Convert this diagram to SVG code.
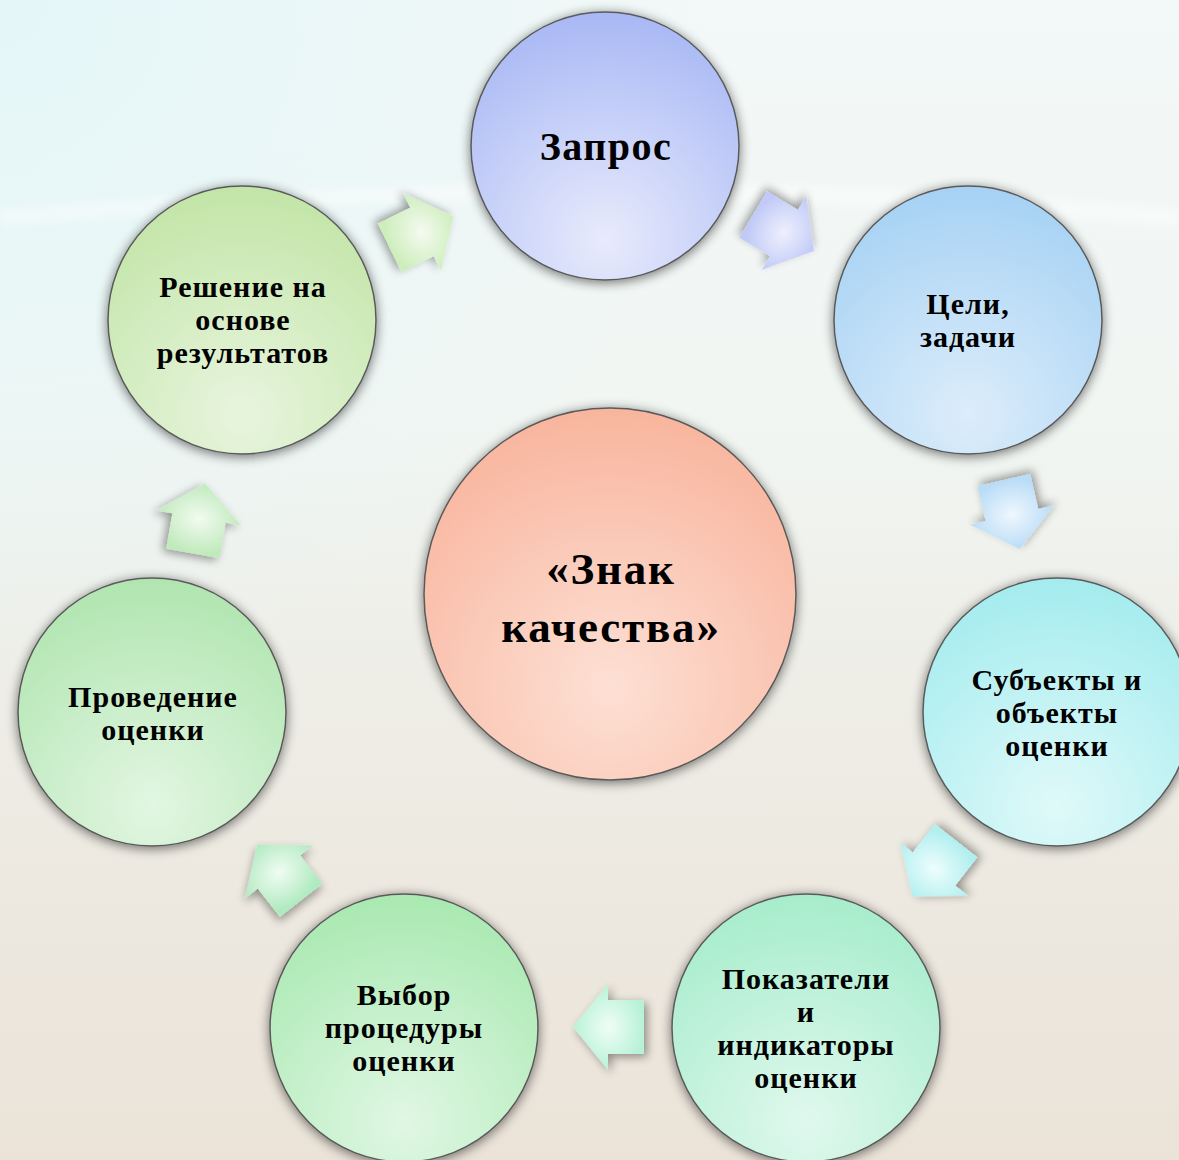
<svg xmlns="http://www.w3.org/2000/svg" width="1179" height="1160" viewBox="0 0 1179 1160">
<defs>
<linearGradient id="bg" x1="0" y1="0" x2="0" y2="1">
<stop offset="0" stop-color="#f3f8f8"/>
<stop offset="0.35" stop-color="#f1f6f3"/>
<stop offset="0.6" stop-color="#eeede6"/>
<stop offset="1" stop-color="#ebe3d8"/>
</linearGradient>
<radialGradient id="bgtl" cx="0" cy="0" r="0.6">
<stop offset="0" stop-color="#e2f6f8" stop-opacity="0.9"/>
<stop offset="1" stop-color="#e2f6f8" stop-opacity="0"/>
</radialGradient>
<filter id="sh" x="-20%" y="-20%" width="140%" height="140%">
<feGaussianBlur in="SourceAlpha" stdDeviation="6"/>
<feOffset dx="0" dy="2" result="b"/>
<feComponentTransfer><feFuncA type="linear" slope="0.55"/></feComponentTransfer>
<feMerge><feMergeNode/><feMergeNode in="SourceGraphic"/></feMerge>
</filter>
<filter id="ash" x="-40%" y="-40%" width="180%" height="180%">
<feGaussianBlur in="SourceAlpha" stdDeviation="5"/>
<feOffset dx="-3" dy="-3"/>
<feComponentTransfer><feFuncA type="linear" slope="0.4"/></feComponentTransfer>
<feMerge><feMergeNode/><feMergeNode in="SourceGraphic"/></feMerge>
</filter>
<filter id="blur" x="-10%" y="-100%" width="120%" height="300%"><feGaussianBlur stdDeviation="4"/></filter>
<radialGradient id="g1" cx="0.5" cy="0.85" r="0.9"><stop offset="0" stop-color="#e8ebfc"/><stop offset="1" stop-color="#a5b5f4"/></radialGradient>
<radialGradient id="g2" cx="0.5" cy="0.85" r="0.9"><stop offset="0" stop-color="#dcedfb"/><stop offset="1" stop-color="#a3d0f3"/></radialGradient>
<radialGradient id="g3" cx="0.5" cy="0.85" r="0.9"><stop offset="0" stop-color="#e0f9f9"/><stop offset="1" stop-color="#a0ebee"/></radialGradient>
<radialGradient id="g4" cx="0.5" cy="0.85" r="0.9"><stop offset="0" stop-color="#e0f8ee"/><stop offset="1" stop-color="#a3ecc9"/></radialGradient>
<radialGradient id="g5" cx="0.5" cy="0.85" r="0.9"><stop offset="0" stop-color="#e0f7e4"/><stop offset="1" stop-color="#a6e8ae"/></radialGradient>
<radialGradient id="g6" cx="0.5" cy="0.85" r="0.9"><stop offset="0" stop-color="#e2f6e2"/><stop offset="1" stop-color="#ade4ad"/></radialGradient>
<radialGradient id="g7" cx="0.5" cy="0.85" r="0.9"><stop offset="0" stop-color="#e8f5de"/><stop offset="1" stop-color="#c0e4a4"/></radialGradient>
<radialGradient id="gc" cx="0.5" cy="0.75" r="0.8"><stop offset="0" stop-color="#fde0d4"/><stop offset="1" stop-color="#f8b29a"/></radialGradient>
<radialGradient id="a1"><stop offset="0" stop-color="#f4faf0"/><stop offset="1" stop-color="#cdeebb"/></radialGradient>
<radialGradient id="a2"><stop offset="0" stop-color="#eef0fd"/><stop offset="1" stop-color="#c0c9f7"/></radialGradient>
<radialGradient id="a3"><stop offset="0" stop-color="#eef7fd"/><stop offset="1" stop-color="#b9dcf7"/></radialGradient>
<radialGradient id="a4"><stop offset="0" stop-color="#eefdfd"/><stop offset="1" stop-color="#b2efef"/></radialGradient>
<radialGradient id="a5"><stop offset="0" stop-color="#f0fdf7"/><stop offset="1" stop-color="#b8f2d6"/></radialGradient>
<radialGradient id="a6"><stop offset="0" stop-color="#f0fcf2"/><stop offset="1" stop-color="#b0eac0"/></radialGradient>
<radialGradient id="a7"><stop offset="0" stop-color="#f2fbf0"/><stop offset="1" stop-color="#c0eabc"/></radialGradient>
<path id="arr" d="M-36,-27 H0 V-43 L35,0 L0,43 V27 H-36 Z"/>
</defs>
<style>
.c{stroke:#5a5a5a;stroke-width:1.5;filter:url(#sh)}
.t{font-family:"Liberation Serif","Times New Roman",serif;font-weight:bold;fill:#000;text-anchor:middle}
.s{font-size:30px;letter-spacing:1px}
.a{filter:url(#ash)}
</style>
<rect width="1179" height="1160" fill="url(#bg)"/>
<rect width="1179" height="1160" fill="url(#bgtl)"/>
<path d="M0,218 Q590,165 1179,218" fill="none" stroke="#ffffff" stroke-width="16" stroke-opacity="0.4" filter="url(#blur)"/>
<g id="connectors">
<use href="#arr" class="a" fill="url(#a1)" transform="translate(422,232) rotate(-26)"/>
<use href="#arr" class="a" fill="url(#a2)" transform="translate(784,233) rotate(31)"/>
<use href="#arr" class="a" fill="url(#a3)" transform="translate(1012,515) rotate(77)"/>
<use href="#arr" class="a" fill="url(#a4)" transform="translate(934,869) rotate(128)"/>
<use href="#arr" class="a" fill="url(#a5)" transform="translate(608,1027) rotate(180)"/>
<use href="#arr" class="a" fill="url(#a6)" transform="translate(279,872) rotate(232)"/>
<use href="#arr" class="a" fill="url(#a7)" transform="translate(199,518) rotate(-80)"/>
</g>
<g id="n-zapros">
<circle class="c" cx="605" cy="146" r="134" fill="url(#g1)"/>
<text class="t" x="606" y="160" font-size="40" letter-spacing="1.5">Запрос</text>
</g>
<g id="n-tseli">
<circle class="c" cx="968" cy="320" r="134" fill="url(#g2)"/>
<text class="t s" x="968" y="314">Цели,</text>
<text class="t s" x="968" y="347">задачи</text>
</g>
<g id="n-subekty">
<circle class="c" cx="1057" cy="712" r="134" fill="url(#g3)"/>
<text class="t s" x="1057" y="690">Субъекты и</text>
<text class="t s" x="1057" y="723">объекты</text>
<text class="t s" x="1057" y="756">оценки</text>
</g>
<g id="n-pokazateli">
<circle class="c" cx="806" cy="1028" r="134" fill="url(#g4)"/>
<text class="t s" x="806" y="989">Показатели</text>
<text class="t s" x="806" y="1022">и</text>
<text class="t s" x="806" y="1055">индикаторы</text>
<text class="t s" x="806" y="1088">оценки</text>
</g>
<g id="n-vybor">
<circle class="c" cx="404" cy="1028" r="134" fill="url(#g5)"/>
<text class="t s" x="404" y="1005">Выбор</text>
<text class="t s" x="404" y="1038">процедуры</text>
<text class="t s" x="404" y="1071">оценки</text>
</g>
<g id="n-provedenie">
<circle class="c" cx="152" cy="712" r="134" fill="url(#g6)"/>
<text class="t s" x="153" y="707">Проведение</text>
<text class="t s" x="153" y="740">оценки</text>
</g>
<g id="n-reshenie">
<circle class="c" cx="242" cy="320" r="134" fill="url(#g7)"/>
<text class="t s" x="243" y="297">Решение на</text>
<text class="t s" x="243" y="330">основе</text>
<text class="t s" x="243" y="363">результатов</text>
</g>
<g id="n-center">
<circle class="c" cx="610" cy="594" r="186" fill="url(#gc)"/>
<text class="t" x="611" y="584" font-size="45" letter-spacing="1.8">«Знак</text>
<text class="t" x="611" y="642" font-size="45" letter-spacing="1.8">качества»</text>
</g>
</svg>
